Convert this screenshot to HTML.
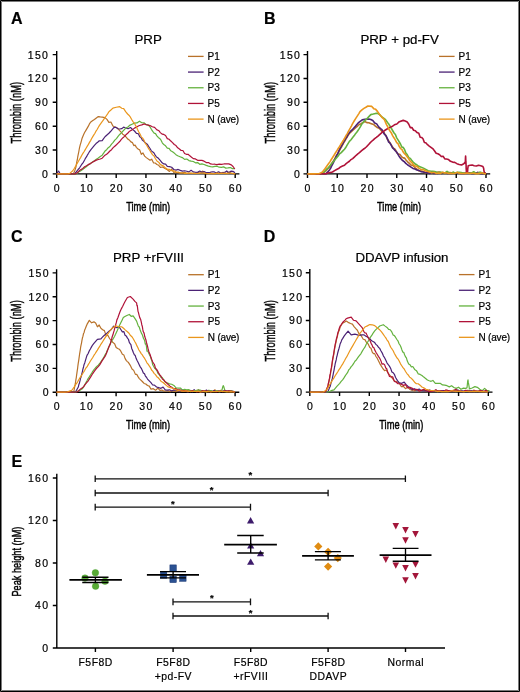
<!DOCTYPE html><html><head><meta charset="utf-8"><style>html,body{margin:0;padding:0;background:#fff;}svg{display:block;will-change:transform;} text{stroke:#000;stroke-width:0.2px;} text.h{stroke-width:0.45px;}</style></head><body>
<svg width="520" height="692" viewBox="0 0 520 692" style="font-family:'Liberation Sans', sans-serif" fill="#000">
<rect x="0" y="0" width="520" height="692" fill="#fff"/>
<text x="11.1" y="23.5" font-size="16" font-weight="bold">A</text>
<text x="134.5" y="43.6" font-size="13.3">PRP</text>
<text x="49.2" y="177.8" font-size="10.5" text-anchor="end" letter-spacing="1.3">0</text>
<text x="49.2" y="153.94" font-size="10.5" text-anchor="end" letter-spacing="1.3">30</text>
<text x="49.2" y="130.08" font-size="10.5" text-anchor="end" letter-spacing="1.3">60</text>
<text x="49.2" y="106.22" font-size="10.5" text-anchor="end" letter-spacing="1.3">90</text>
<text x="49.2" y="82.36" font-size="10.5" text-anchor="end" letter-spacing="1.3">120</text>
<text x="49.2" y="58.5" font-size="10.5" text-anchor="end" letter-spacing="1.3">150</text>
<text x="57.35" y="192" font-size="10.5" text-anchor="middle" letter-spacing="1.3">0</text>
<text x="87.1" y="192" font-size="10.5" text-anchor="middle" letter-spacing="1.3">10</text>
<text x="116.85" y="192" font-size="10.5" text-anchor="middle" letter-spacing="1.3">20</text>
<text x="146.6" y="192" font-size="10.5" text-anchor="middle" letter-spacing="1.3">30</text>
<text x="176.35" y="192" font-size="10.5" text-anchor="middle" letter-spacing="1.3">40</text>
<text x="206.1" y="192" font-size="10.5" text-anchor="middle" letter-spacing="1.3">50</text>
<text x="235.85" y="192" font-size="10.5" text-anchor="middle" letter-spacing="1.3">60</text>
<text x="126.2" y="210.5" font-size="12.3" textLength="44" lengthAdjust="spacingAndGlyphs" class="h">Time (min)</text>
<text transform="translate(21.2 143.4) rotate(-90)" font-size="13.8" textLength="61.5" lengthAdjust="spacingAndGlyphs" class="h">Thrombin (nM)</text>
<path d="M56.7 50.9 V177.9 M52.7 173.9 H239.4 M52.7 150.04 H56.7 M52.7 126.18 H56.7 M52.7 102.32 H56.7 M52.7 78.46 H56.7 M52.7 54.6 H56.7 M86.45 173.9 V177.9 M116.2 173.9 V177.9 M145.95 173.9 V177.9 M175.7 173.9 V177.9 M205.45 173.9 V177.9 M235.2 173.9 V177.9" fill="none" stroke="#000" stroke-width="1.4"/>
<path d="M56.7 173.9 L58.8 173.89 L60.9 173.88 L63 173.86 L65.1 173.85 L67.2 173.84 L69.3 173.83 L71.4 173.81 L73.5 173.8 L74.23 171.89 L74.97 170.2 L75.7 167.8 L76.1 166.05 L76.5 163.63 L76.9 161.47 L77.3 159.76 L77.7 157.23 L78.08 155.21 L78.46 153.39 L78.84 151.5 L79.22 149.27 L79.6 147.42 L80.22 144.9 L80.85 142.82 L81.47 140.61 L82.1 138.22 L82.93 136.22 L83.77 134.23 L84.6 132.55 L86.05 130.11 L87.5 127.63 L88.5 125.91 L89.5 123.82 L90.5 122.28 L92.45 120.85 L94.4 119.46 L96.35 117.92 L98.3 116.62 L100.3 116.89 L102.2 117.05 L105 117.66 L106.95 119.41 L108.9 122.37 L110.9 122.01 L112.9 126.06 L115.35 127.23 L117.8 128.28 L119.43 130.45 L121.07 132.14 L122.7 134.13 L124.33 135.21 L125.97 136.92 L127.6 138.88 L129.23 139.91 L130.87 141.87 L132.5 142.65 L133.8 145.58 L135.1 145.16 L136.4 147.33 L138.03 149.07 L139.67 149.9 L141.3 154.33 L142.97 152.98 L144.63 156.14 L146.3 157.63 L150 160.26 L151.73 159.18 L153.47 162.78 L155.2 162.99 L156.93 164.52 L158.67 165.3 L160.4 167.35 L162.7 166.97 L165 168.58 L167.3 169.75 L169.48 171.44 L171.65 169.12 L173.82 172.52 L176 172.76 L178.15 172.11 L180.3 173.01 L182.45 172.82 L184.6 172.35 L186.62 173.37 L188.65 173.37 L190.67 173.38 L192.7 173.41 L194.72 173.44 L196.74 172.96 L198.77 172.14 L200.79 172.26 L202.82 171.08 L204.84 173.53 L206.86 173.53 L208.89 173.38 L210.91 173.51 L212.94 173.56 L214.96 173.45 L216.98 173.01 L219.01 173.39 L221.03 173.46 L223.06 172.37 L225.08 173.37 L227.1 173.06 L229.13 172.14 L231.15 173.23 L233.18 173.38 L235.2 173.8" fill="none" stroke="#b8722a" stroke-width="1.2" stroke-linejoin="round"/>
<path d="M56.7 173.9 L57.5 172.5 L58.6 171.05 L60 173.5 L61 173.9 L63.25 173.88 L65.5 173.87 L67.75 173.85 L70 173.83 L72.25 173.82 L74.5 173.8 L76.2 171.93 L77.9 169.76 L79.6 167.78 L80.85 165.75 L82.1 163.94 L83.35 162.31 L84.6 160.01 L85.58 158.04 L86.56 156.72 L87.54 154.83 L88.52 153.24 L89.5 151.55 L91.13 149.3 L92.77 147.34 L94.4 145.39 L96.03 143.53 L97.67 142.27 L99.3 140.79 L102.2 140.54 L103.6 138.6 L105 136.75 L106.95 134.94 L108.9 133.23 L110.53 131.52 L112.17 129.62 L113.8 127.69 L115.8 127.15 L117.8 128.75 L119.75 129.03 L121.7 128.69 L123.65 127.14 L125.6 127.99 L128.05 128.77 L130.5 127.49 L132.5 129.36 L134.5 131 L136.45 133.36 L138.4 133.76 L139.7 136.72 L141 137.45 L142.3 139.95 L143.93 141.29 L145.57 143.07 L147.2 144.17 L148.53 146.35 L149.87 148.28 L151.2 150.56 L152.53 151.84 L153.87 152.75 L155.2 155.09 L156.5 157.02 L157.8 157.75 L159.1 159.07 L160.4 160.62 L162.12 162.77 L163.85 163.88 L165.58 164.15 L167.3 166.36 L169.48 166.61 L171.65 167.27 L173.82 169.52 L176 170.07 L178.15 169.42 L180.3 170.41 L182.45 171.13 L184.6 170.75 L186.76 171.23 L188.93 171.89 L191.09 170.29 L193.25 171.88 L195.41 172.28 L197.57 172.23 L199.74 171.05 L201.9 172.32 L203.97 171.54 L206.04 172.59 L208.11 172.65 L210.18 172.43 L212.24 171.78 L214.31 171.95 L216.38 173 L218.45 171.82 L220.52 172.84 L222.59 172.9 L224.66 172.39 L226.72 170.95 L228.79 172.72 L230.86 171.21 L232.93 171.34 L235 172.8" fill="none" stroke="#4b2275" stroke-width="1.2" stroke-linejoin="round"/>
<path d="M56.7 173.9 L58.9 173.89 L61.1 173.88 L63.3 173.87 L65.5 173.86 L67.7 173.84 L69.9 173.83 L72.1 173.82 L74.3 173.81 L76.5 173.8 L78.53 171.98 L80.55 171.06 L82.57 169.55 L84.6 167.95 L86.23 166.76 L87.87 165.22 L89.5 164.2 L91.13 162.9 L92.77 161.8 L94.4 160.75 L96.35 159.26 L98.3 157.96 L100.25 156.43 L102.2 155.13 L103.6 153.17 L105 151.05 L106.63 149.68 L108.27 147.69 L109.9 146.51 L111.53 144.07 L113.17 142.44 L114.8 140.17 L116.43 138.61 L118.07 136.39 L119.7 134.47 L121.33 132.89 L122.97 131.03 L124.6 129.33 L126.27 127.83 L127.93 127.03 L129.6 125.39 L132.05 124.2 L134.5 123.09 L136.95 122.93 L139.4 121.15 L141.85 122.74 L144.3 122.88 L146.2 124.73 L148.1 124.78 L150 126.88 L151.38 129.3 L152.76 131.44 L154.14 133.2 L155.52 133.59 L156.9 135.83 L158.28 137.46 L159.66 138.48 L161.04 140.17 L162.42 143.1 L163.8 144.54 L165.55 145.85 L167.3 148.12 L169.05 148.42 L170.8 150.79 L172.53 151.81 L174.25 153.07 L175.97 154.67 L177.7 155.8 L180 156.71 L182.3 157.58 L184.6 159.37 L186.78 158.98 L188.95 160.56 L191.12 161.18 L193.3 161.51 L195.45 162.79 L197.6 162.53 L199.75 164.29 L201.9 163.85 L204.07 164.48 L206.25 165.38 L208.43 166.11 L210.6 166.6 L212.75 166.79 L214.9 166.39 L217.05 166.17 L219.2 167.2 L221.38 167.29 L223.55 166.83 L225.72 168.11 L227.9 167.91 L230.2 167.57 L232.5 168.64 L234.8 168.7" fill="none" stroke="#64b23e" stroke-width="1.2" stroke-linejoin="round"/>
<path d="M56.7 173.9 L58.81 173.89 L60.92 173.88 L63.03 173.87 L65.14 173.86 L67.26 173.84 L69.37 173.83 L71.48 173.82 L73.59 173.81 L75.7 173.8 L77.48 172.44 L79.26 170.86 L81.04 169.58 L82.82 168.43 L84.6 166.74 L86.56 165.83 L88.52 164.42 L90.48 163.58 L92.44 162.16 L94.4 161.13 L96.35 160.1 L98.3 159.54 L100.25 159.01 L102.2 158.18 L105 155.2 L106.63 154.19 L108.27 152.71 L109.9 151.04 L111.53 149.7 L113.17 147.66 L114.8 146.19 L116.43 144.75 L118.07 143.15 L119.7 141.51 L121.33 139.45 L122.97 137.67 L124.6 136.36 L126.27 134.43 L127.93 133.01 L129.6 131.19 L132.05 129.88 L134.5 128.13 L136.95 126.84 L139.4 125.5 L141.85 124.81 L144.3 123.94 L147.15 124.96 L150 125.54 L152.3 126.79 L154.6 127.43 L156.9 129.84 L158.62 130.48 L160.35 132.62 L162.08 134.11 L163.8 134.42 L165.55 135.5 L167.3 138.64 L169.05 139.26 L170.8 141.05 L172.53 142.58 L174.25 144.52 L175.97 145.52 L177.7 147.84 L179.42 148.94 L181.15 150.49 L182.88 150.52 L184.6 153.55 L186.34 154.32 L188.08 154.23 L189.82 155.82 L191.56 157.28 L193.3 158.65 L195.45 158.95 L197.6 160.36 L199.75 160.26 L201.9 160.35 L204.07 161.18 L206.25 162.61 L208.43 162.51 L210.6 163.96 L212.75 164.26 L214.9 164.22 L217.05 164.66 L219.2 164.2 L221.53 164.29 L223.87 163.97 L226.2 163.96 L228.75 163.89 L231.3 164.89 L233.05 166.51 L234.8 169" fill="none" stroke="#b01238" stroke-width="1.2" stroke-linejoin="round"/>
<path d="M56.7 173.9 L58.94 173.88 L61.18 173.86 L63.42 173.84 L65.66 173.82 L67.9 173.8 L69.8 173.4 L72.8 170.75 L74.25 168.47 L75.7 166.05 L77 163.66 L78.3 161.54 L79.6 159.2 L80.7 157.35 L81.8 155.33 L82.9 153.38 L84 151.74 L85.1 149.85 L86.2 148.04 L87.3 146.15 L88.4 144.39 L89.5 142.37 L90.59 140.61 L91.68 138.59 L92.77 136.59 L93.86 134.93 L94.94 133.28 L96.03 131.09 L97.12 129.52 L98.21 127.48 L99.3 125.66 L100.72 123.7 L102.15 121.72 L103.58 119.6 L105 117.71 L106.3 115.78 L107.6 113.85 L108.9 111.72 L110.9 110.01 L112.9 108.1 L116.3 107.25 L119.7 106.63 L121.7 108.26 L123.7 108.65 L125.65 111.68 L127.6 113.99 L128.9 115.2 L130.2 116.84 L131.5 119.27 L133 121.62 L134.5 123.32 L135.47 125.48 L136.43 126.65 L137.4 129.25 L138.7 131.82 L140 134.09 L141.3 136.85 L142.63 138.2 L143.97 140.11 L145.3 143.36 L146.48 144.82 L147.65 146.95 L148.82 148.93 L150 150.71 L151.3 152.95 L152.6 154.87 L153.9 155.77 L155.2 158.28 L156.93 161 L158.67 162.16 L160.4 164.64 L162.12 165.38 L163.85 166.35 L165.58 168.15 L167.3 169.06 L169.48 169.46 L171.65 170.72 L173.82 170.79 L176 171.85 L178.15 172.77 L180.3 172.81 L182.45 172.78 L184.6 173.34 L186.62 173.4 L188.65 173.07 L190.67 173.2 L192.7 173.45 L194.72 173.39 L196.74 173.52 L198.77 173.5 L200.79 173.08 L202.82 173.05 L204.84 173.15 L206.86 173.5 L208.89 173.56 L210.91 173.34 L212.94 173.55 L214.96 173.6 L216.98 173.11 L219.01 173.56 L221.03 173.21 L223.06 173.37 L225.08 173.22 L227.1 173.69 L229.13 173.18 L231.15 173.27 L233.18 173.66 L235.2 173.8" fill="none" stroke="#ea961c" stroke-width="1.2" stroke-linejoin="round"/>
<path d="M188 56.4 H203.6" stroke="#b8722a" stroke-width="1.3"/>
<text x="207.6" y="60" font-size="10">P1</text>
<path d="M188 72.08 H203.6" stroke="#4b2275" stroke-width="1.3"/>
<text x="207.6" y="75.68" font-size="10">P2</text>
<path d="M188 87.76 H203.6" stroke="#64b23e" stroke-width="1.3"/>
<text x="207.6" y="91.36" font-size="10">P3</text>
<path d="M188 103.44 H203.6" stroke="#b01238" stroke-width="1.3"/>
<text x="207.6" y="107.04" font-size="10">P5</text>
<path d="M188 119.12 H203.6" stroke="#ea961c" stroke-width="1.3"/>
<text x="207.6" y="122.72" font-size="10" textLength="31.6">N (ave)</text>
<text x="263.9" y="23.5" font-size="16" font-weight="bold">B</text>
<text x="360.4" y="43.6" font-size="13.3">PRP + pd-FV</text>
<text x="301.2" y="177.8" font-size="10.5" text-anchor="end" letter-spacing="1.3">0</text>
<text x="301.2" y="153.94" font-size="10.5" text-anchor="end" letter-spacing="1.3">30</text>
<text x="301.2" y="130.08" font-size="10.5" text-anchor="end" letter-spacing="1.3">60</text>
<text x="301.2" y="106.22" font-size="10.5" text-anchor="end" letter-spacing="1.3">90</text>
<text x="301.2" y="82.36" font-size="10.5" text-anchor="end" letter-spacing="1.3">120</text>
<text x="301.2" y="58.5" font-size="10.5" text-anchor="end" letter-spacing="1.3">150</text>
<text x="308.15" y="192" font-size="10.5" text-anchor="middle" letter-spacing="1.3">0</text>
<text x="337.9" y="192" font-size="10.5" text-anchor="middle" letter-spacing="1.3">10</text>
<text x="367.65" y="192" font-size="10.5" text-anchor="middle" letter-spacing="1.3">20</text>
<text x="397.4" y="192" font-size="10.5" text-anchor="middle" letter-spacing="1.3">30</text>
<text x="427.15" y="192" font-size="10.5" text-anchor="middle" letter-spacing="1.3">40</text>
<text x="456.9" y="192" font-size="10.5" text-anchor="middle" letter-spacing="1.3">50</text>
<text x="486.65" y="192" font-size="10.5" text-anchor="middle" letter-spacing="1.3">60</text>
<text x="377" y="210.5" font-size="12.3" textLength="44" lengthAdjust="spacingAndGlyphs" class="h">Time (min)</text>
<text transform="translate(274.7 143.4) rotate(-90)" font-size="13.8" textLength="61.5" lengthAdjust="spacingAndGlyphs" class="h">Thrombin (nM)</text>
<path d="M307.5 50.9 V177.9 M303.5 173.9 H490.2 M303.5 150.04 H307.5 M303.5 126.18 H307.5 M303.5 102.32 H307.5 M303.5 78.46 H307.5 M303.5 54.6 H307.5 M337.25 173.9 V177.9 M367 173.9 V177.9 M396.75 173.9 V177.9 M426.5 173.9 V177.9 M456.25 173.9 V177.9 M486 173.9 V177.9" fill="none" stroke="#000" stroke-width="1.4"/>
<path d="M307.5 173.9 L309.69 173.89 L311.87 173.87 L314.06 173.86 L316.24 173.84 L318.43 173.83 L320.61 173.81 L322.8 173.8 L324.52 172.02 L326.25 170.38 L327.98 168.55 L329.7 167.01 L330.93 164.98 L332.15 162.81 L333.38 160.98 L334.6 159.06 L335.6 157.2 L336.6 155.4 L337.6 153.97 L338.6 152.37 L339.6 150.25 L340.58 148.45 L341.56 146.82 L342.54 144.92 L343.52 143.05 L344.5 141.63 L345.73 139.28 L346.95 137.38 L348.17 135.44 L349.4 133.45 L351.03 131.93 L352.67 130.43 L354.3 128.94 L355.93 127.48 L357.57 126.04 L359.2 124.49 L361.1 123.66 L363 122.48 L364.9 121.55 L366.85 122.64 L368.8 122.71 L371.3 123.68 L373.8 124.59 L375.43 126.15 L377.07 127.39 L378.7 127.99 L380.33 129.52 L381.97 131.58 L383.6 131.49 L384.83 134.13 L386.05 135.71 L387.27 139.18 L388.5 140.63 L389.73 142.53 L390.95 144.42 L392.17 146.31 L393.4 148.26 L395.03 149.19 L396.67 152.18 L398.3 154.33 L399.93 154.38 L401.57 156.79 L403.2 157.87 L404.68 158.16 L406.15 160.24 L407.62 161.83 L409.1 163.21 L411.04 165.09 L412.98 165.56 L414.92 167.52 L416.86 169.14 L418.8 170.8 L420.98 171.08 L423.15 171.57 L425.32 172.73 L427.5 171.91 L429.52 173.54 L431.53 172.89 L433.55 172.39 L435.57 172.87 L437.59 172.13 L439.6 172.04 L441.62 173.01 L443.64 172.79 L445.66 172.84 L447.67 172.79 L449.69 172.59 L451.71 172.8 L453.72 172.42 L455.74 173.4 L457.76 173.08 L459.78 172.9 L461.79 172.86 L463.81 173.41 L465.83 173.29 L467.84 172.92 L469.86 172.95 L471.88 173.46 L473.9 173.27 L475.91 173.19 L477.93 172.42 L479.95 173.16 L481.97 173.51 L483.98 173.59 L486 173.8" fill="none" stroke="#b8722a" stroke-width="1.6" stroke-linejoin="round"/>
<path d="M307.5 173.9 L309.53 173.89 L311.57 173.88 L313.6 173.87 L315.63 173.86 L317.67 173.84 L319.7 173.83 L321.73 173.82 L323.77 173.81 L325.8 173.8 L327.75 171.91 L329.7 169.68 L330.68 168.09 L331.66 166.03 L332.64 164.03 L333.62 162.13 L334.6 159.73 L335.6 157.85 L336.6 155.63 L337.6 153.92 L338.6 151.43 L339.6 149.22 L340.58 147.68 L341.56 145.61 L342.54 144.25 L343.52 142.14 L344.5 140.49 L345.73 138.37 L346.95 136.68 L348.17 134.22 L349.4 132.71 L351.03 130.83 L352.67 129.34 L354.3 127.51 L355.6 126.1 L356.9 124.46 L358.2 122.9 L360.2 121.35 L362.2 119.9 L365 119.35 L368.8 118.99 L370.8 119.5 L372.8 120.4 L374.75 122.97 L376.7 123.89 L378.65 126.88 L380.6 128.52 L381.93 129.58 L383.27 132.26 L384.6 134.47 L385.58 135.28 L386.55 136.83 L387.52 138.86 L388.5 141.79 L389.8 142.94 L391.1 145.01 L392.4 147.58 L393.7 148.84 L395 150.53 L396.3 151.8 L397.63 153.72 L398.97 156.12 L400.3 158.09 L402.25 160.28 L404.2 161.63 L405.83 163.39 L407.47 164.76 L409.1 165.85 L411.04 167.13 L412.98 168.4 L414.92 168.97 L416.86 169.92 L418.8 170.37 L420.98 171.66 L423.15 172 L425.32 172.45 L427.5 172.75 L429.52 173.54 L431.53 171.83 L433.55 173.5 L435.57 173.33 L437.59 173.54 L439.6 173 L441.62 173.4 L443.64 173 L445.66 173.03 L447.67 173.53 L449.69 173.55 L451.71 173.39 L453.72 173.03 L455.74 173.34 L457.76 172.91 L459.78 173.11 L461.79 173.36 L463.81 173.57 L465.83 173.16 L467.84 173.31 L469.86 172.92 L471.88 173.52 L473.9 173.47 L475.91 173.1 L477.93 172.39 L479.95 173.7 L481.97 173.73 L483.98 173.54 L486 173.8" fill="none" stroke="#4b2275" stroke-width="1.6" stroke-linejoin="round"/>
<path d="M307.5 173.9 L309.57 173.89 L311.64 173.87 L313.71 173.86 L315.79 173.84 L317.86 173.83 L319.93 173.81 L322 173.8 L323.54 172.25 L325.08 170.7 L326.62 169.16 L328.16 167.79 L329.7 166.08 L331.33 164.12 L332.97 162 L334.6 160.29 L336.27 158.1 L337.93 156.29 L339.6 153.85 L341.23 152.61 L342.87 150.92 L344.5 149.22 L345.73 147.54 L346.95 145.42 L348.17 143.35 L349.4 141.31 L351.03 139.74 L352.67 137.59 L354.3 135.61 L355.52 133.67 L356.75 132.32 L357.98 130.49 L359.2 128.66 L360.43 126.65 L361.67 124.37 L362.9 122.71 L364.9 120.47 L366.9 118.84 L368.85 116.63 L370.8 114.6 L373.25 114.06 L375.7 113.42 L377.65 113.38 L379.6 114.66 L381.6 116.78 L383.6 118.06 L385.55 119.66 L387.5 122.47 L388.8 124.04 L390.1 126.22 L391.4 128.53 L392.73 130.77 L394.07 132.99 L395.4 134.49 L396.7 137.86 L398 139.82 L399.3 141.98 L400.6 144.25 L401.9 147.19 L403.2 147.39 L404.53 149.52 L405.87 153.12 L407.2 154.57 L408.77 157.68 L410.33 158.39 L411.9 160.63 L413.62 162.66 L415.35 164 L417.07 165.04 L418.8 166.35 L421.13 167.16 L423.47 168.13 L425.8 169.39 L428.1 170.76 L430.4 171.02 L432.7 171.21 L434.75 171.64 L436.8 172.19 L438.85 172.65 L440.9 172.19 L442.95 172.49 L445 172.98 L447.05 171.4 L449.1 172.98 L451.15 173.57 L453.2 172.06 L455.25 173.39 L457.3 172.18 L459.35 172.38 L461.4 172.65 L463.45 172.95 L465.5 173.15 L467.55 173.28 L469.6 173.22 L471.65 172.89 L473.7 171.73 L475.75 173.39 L477.8 173.56 L479.85 172.12 L481.9 172.72 L483.95 173.59 L486 173.3" fill="none" stroke="#64b23e" stroke-width="1.6" stroke-linejoin="round"/>
<path d="M307.5 173.9 L309.56 173.89 L311.61 173.88 L313.67 173.87 L315.72 173.86 L317.78 173.84 L319.83 173.83 L321.89 173.82 L323.94 173.81 L326 173.8 L328.15 173.08 L330.3 172.42 L332.45 172.01 L334.6 170.67 L336.58 169.52 L338.56 168.57 L340.54 166.94 L342.52 166.02 L344.5 165.24 L346.13 163.6 L347.77 162.43 L349.4 161.24 L351.03 159.56 L352.67 158.56 L354.3 157.07 L356.2 155.27 L358.1 153.74 L360 152.09 L361.63 150.68 L363.27 149.3 L364.9 148.3 L366.53 146.71 L368.17 144.95 L369.8 143.18 L371.43 141.51 L373.07 140.1 L374.7 138.57 L376.33 137.38 L377.97 136.06 L379.6 134.59 L381.27 133.09 L382.93 131.72 L384.6 130.54 L387.05 129.03 L389.5 127.62 L391.95 126.56 L394.4 124.86 L396.85 123.99 L399.3 121.66 L403.2 120.37 L405.2 121.05 L407.2 121.89 L408.77 124.24 L410.33 127.63 L411.9 127.52 L413.62 130.27 L415.35 130.75 L417.07 132.61 L418.8 133.29 L420.2 137.31 L421.6 137.45 L423 138.79 L424.4 142.54 L425.8 142.83 L427.52 144.71 L429.25 146.05 L430.98 147.3 L432.7 148.61 L434.43 150.78 L436.15 153.32 L437.88 153.79 L439.6 154.68 L441.34 156.58 L443.08 156.23 L444.82 158.87 L446.56 158.95 L448.3 159.42 L450.45 161.35 L452.6 162.11 L454.75 162.39 L456.9 163.65 L459.2 164.45 L461.5 165.01 L463.8 163.71 L465.2 161.98 L465.3 163.19 L465.4 159.57 L465.5 157.44 L465.6 156 L465.7 157.48 L465.8 160.57 L465.9 161.06 L466 163.86 L466.1 165.15 L466.2 169.11 L466.3 169.9 L466.4 172.86 L467.5 172.96 L467.73 168.9 L467.97 167.31 L468.2 165.7 L470.2 165.23 L472.2 165.11 L474.2 165.78 L476.38 166.06 L478.55 165.24 L480.72 165.78 L482.9 166.55 L483.6 168.15 L483.95 170.6 L484.3 172.22 L486 173.8" fill="none" stroke="#b01238" stroke-width="1.6" stroke-linejoin="round"/>
<path d="M307.5 173.9 L309.78 173.88 L312.06 173.86 L314.34 173.84 L316.62 173.82 L318.9 173.8 L321.9 172.4 L323.35 170.83 L324.8 168.88 L326.02 167.23 L327.25 165.5 L328.48 163.81 L329.7 162.12 L330.93 160.04 L332.15 158.19 L333.38 156.3 L334.6 154.24 L335.85 152.3 L337.1 150.3 L338.35 148.28 L339.6 146.49 L340.83 144.28 L342.05 142.44 L343.27 140.56 L344.5 138.53 L345.48 136.61 L346.46 134.83 L347.44 133.32 L348.42 131.28 L349.4 129.6 L350.38 127.9 L351.36 126.09 L352.34 124.13 L353.32 122.36 L354.3 120.79 L355.44 118.92 L356.58 117.17 L357.72 115.41 L358.86 113.62 L360 111.66 L361.95 109.87 L363.9 108.4 L365.9 107.28 L367.9 105.99 L371.8 106.41 L373.75 108.64 L375.7 109.36 L377.65 111.64 L379.6 114.42 L380.93 115.97 L382.27 117.73 L383.6 118.76 L384.58 120.03 L385.55 122.51 L386.52 124.57 L387.5 126.27 L388.8 129.11 L390.1 131.23 L391.4 133.04 L392.73 135.9 L394.07 137.95 L395.4 140.13 L396.7 142.66 L398 143.65 L399.3 146.56 L400.6 148.55 L401.9 149.42 L403.2 152.03 L404.53 153.68 L405.87 154.97 L407.2 156.8 L408.38 158.34 L409.55 160.27 L410.72 161.68 L411.9 162.75 L413.62 164.99 L415.35 165.96 L417.07 166.43 L418.8 168.1 L421.13 169.64 L423.47 169.52 L425.8 171.06 L427.95 171.47 L430.1 172.29 L432.25 172.44 L434.4 172.51 L436.46 173.47 L438.53 172.95 L440.59 173.35 L442.66 172.33 L444.72 172.9 L446.78 173.05 L448.85 173.54 L450.91 173.22 L452.98 173.47 L455.04 173.32 L457.1 172.37 L459.17 173.16 L461.23 173.54 L463.3 173.49 L465.36 173.34 L467.42 172.94 L469.49 173.45 L471.55 173.32 L473.62 173.19 L475.68 173.62 L477.74 173.64 L479.81 173.52 L481.87 172.86 L483.94 173.52 L486 173.8" fill="none" stroke="#ea961c" stroke-width="1.6" stroke-linejoin="round"/>
<path d="M439 56.4 H454.6" stroke="#b8722a" stroke-width="1.3"/>
<text x="458.6" y="60" font-size="10">P1</text>
<path d="M439 72.08 H454.6" stroke="#4b2275" stroke-width="1.3"/>
<text x="458.6" y="75.68" font-size="10">P2</text>
<path d="M439 87.76 H454.6" stroke="#64b23e" stroke-width="1.3"/>
<text x="458.6" y="91.36" font-size="10">P3</text>
<path d="M439 103.44 H454.6" stroke="#b01238" stroke-width="1.3"/>
<text x="458.6" y="107.04" font-size="10">P5</text>
<path d="M439 119.12 H454.6" stroke="#ea961c" stroke-width="1.3"/>
<text x="458.6" y="122.72" font-size="10" textLength="31.6">N (ave)</text>
<text x="11.1" y="241.7" font-size="16" font-weight="bold">C</text>
<text x="113" y="261.9" font-size="13.3">PRP +rFVIII</text>
<text x="49.8" y="396.1" font-size="10.5" text-anchor="end" letter-spacing="1.3">0</text>
<text x="49.8" y="372.24" font-size="10.5" text-anchor="end" letter-spacing="1.3">30</text>
<text x="49.8" y="348.38" font-size="10.5" text-anchor="end" letter-spacing="1.3">60</text>
<text x="49.8" y="324.52" font-size="10.5" text-anchor="end" letter-spacing="1.3">90</text>
<text x="49.8" y="300.66" font-size="10.5" text-anchor="end" letter-spacing="1.3">120</text>
<text x="49.8" y="276.8" font-size="10.5" text-anchor="end" letter-spacing="1.3">150</text>
<text x="57.25" y="410.3" font-size="10.5" text-anchor="middle" letter-spacing="1.3">0</text>
<text x="87" y="410.3" font-size="10.5" text-anchor="middle" letter-spacing="1.3">10</text>
<text x="116.75" y="410.3" font-size="10.5" text-anchor="middle" letter-spacing="1.3">20</text>
<text x="146.5" y="410.3" font-size="10.5" text-anchor="middle" letter-spacing="1.3">30</text>
<text x="176.25" y="410.3" font-size="10.5" text-anchor="middle" letter-spacing="1.3">40</text>
<text x="206" y="410.3" font-size="10.5" text-anchor="middle" letter-spacing="1.3">50</text>
<text x="235.75" y="410.3" font-size="10.5" text-anchor="middle" letter-spacing="1.3">60</text>
<text x="126.1" y="428.8" font-size="12.3" textLength="44" lengthAdjust="spacingAndGlyphs" class="h">Time (min)</text>
<text transform="translate(21.2 361.7) rotate(-90)" font-size="13.8" textLength="61.5" lengthAdjust="spacingAndGlyphs" class="h">Thrombin (nM)</text>
<path d="M56.6 269.2 V396.2 M52.6 392.2 H239.3 M52.6 368.34 H56.6 M52.6 344.48 H56.6 M52.6 320.62 H56.6 M52.6 296.76 H56.6 M52.6 272.9 H56.6 M86.35 392.2 V396.2 M116.1 392.2 V396.2 M145.85 392.2 V396.2 M175.6 392.2 V396.2 M205.35 392.2 V396.2 M235.1 392.2 V396.2" fill="none" stroke="#000" stroke-width="1.4"/>
<path d="M56.6 392.2 L58.74 392.18 L60.88 392.15 L63.01 392.12 L65.15 392.1 L67.29 392.07 L69.42 392.05 L71.56 392.02 L73.7 392 L74.12 389.9 L74.55 387.46 L74.98 385.5 L75.4 383.23 L75.7 381.16 L76 379.12 L76.3 377.55 L76.6 375.15 L76.9 373.13 L77.2 370.93 L77.54 368.96 L77.88 365.8 L78.22 363.33 L78.56 361.37 L78.9 359.06 L79.24 356.69 L79.58 354.21 L79.92 352.21 L80.26 350.13 L80.6 347.45 L81.05 345.02 L81.5 343.04 L81.95 340.35 L82.4 338.02 L82.98 336.15 L83.55 333.5 L84.12 332.48 L84.7 329.98 L85.47 328.22 L86.23 326.28 L87 324.4 L89.3 320.33 L91.6 322.82 L93.9 321.86 L95.65 323.09 L97.4 326.82 L99.15 324.99 L100.9 328.3 L102.65 329.67 L104.4 330.6 L106.1 335.66 L107.8 335.16 L109.55 338.57 L111.3 340.44 L112.95 342.6 L114.6 343.65 L116.17 347.43 L117.73 348.47 L119.3 349.18 L120.83 351.16 L122.37 354.29 L123.9 355.08 L125.05 358.38 L126.2 360.32 L127.35 361.61 L128.5 362.56 L130.25 365.36 L132 368.99 L133.7 370.39 L135.4 374.39 L136.7 374.28 L138 376.66 L139.3 378.62 L140.6 379.88 L142.33 381.49 L144.07 383.48 L145.8 383.99 L147.53 385.54 L149.27 386.15 L151 389.21 L153.3 388.71 L155.6 390.21 L157.9 388.12 L159.92 390.33 L161.93 390.04 L163.95 391.19 L165.97 391.02 L167.98 390.75 L170 391.58 L172.03 391.15 L174.06 390.95 L176.09 391.4 L178.12 390.97 L180.16 391.34 L182.19 391.34 L184.22 391.16 L186.25 391.01 L188.28 389.99 L190.31 391.63 L192.34 390.88 L194.38 390.72 L196.41 391.38 L198.44 389.75 L200.47 391.84 L202.5 391.49 L204.53 390.61 L206.56 391.91 L208.59 391.3 L210.62 390.96 L212.66 391.51 L214.69 389.89 L216.72 391.07 L218.75 391.68 L220.78 390.36 L222.81 391.64 L224.84 390.99 L226.88 391.89 L228.91 390.95 L230.94 391.59 L232.97 391.23 L235 392" fill="none" stroke="#b8722a" stroke-width="1.2" stroke-linejoin="round"/>
<path d="M56.6 392.2 L58.7 392.18 L60.8 392.16 L62.9 392.13 L65 392.11 L67.1 392.09 L69.2 392.07 L71.3 392.04 L73.4 392.02 L75.5 392 L76.9 389.49 L78.3 387.01 L78.88 384.4 L79.46 382.98 L80.04 380.65 L80.62 377.96 L81.2 376.69 L81.78 373.9 L82.36 371.81 L82.94 368.98 L83.52 366.97 L84.1 364.42 L84.82 362.65 L85.55 360.1 L86.28 357.63 L87 355.42 L88.17 353.44 L89.33 350.74 L90.5 348.72 L91.63 346.62 L92.77 344.78 L93.9 343.3 L95.65 341.29 L97.4 339.34 L100.9 338.9 L102.65 336.91 L104.4 335.22 L105.93 334.09 L107.47 332.66 L109 331.19 L111.3 329.5 L113.6 326.17 L116.45 327.57 L119.3 327.08 L120.83 329.49 L122.37 331.9 L123.9 331.62 L125.05 335.2 L126.2 335.91 L127.35 337.9 L128.5 339.48 L129.3 342.4 L130.1 343.53 L130.9 344.65 L131.7 348.43 L132.5 350.2 L133.42 352.78 L134.34 354.8 L135.26 355.57 L136.18 358.6 L137.1 360.58 L138.15 362.5 L139.2 364.67 L140.25 366.87 L141.3 368.31 L142.33 370.44 L143.37 373.09 L144.4 373.51 L145.43 376.05 L146.47 377.24 L147.5 379.06 L149.22 380.88 L150.95 382.67 L152.68 384.99 L154.4 385.16 L156.57 386.95 L158.75 387.68 L160.93 388.35 L163.1 387.13 L165.25 389.81 L167.4 390.19 L169.55 389.85 L171.7 391.09 L173.74 389.99 L175.78 390.24 L177.83 390.72 L179.87 391.74 L181.91 389.87 L183.95 390.43 L185.99 391.39 L188.04 391.87 L190.08 390.38 L192.12 391.79 L194.16 389.67 L196.2 391.58 L198.25 390.43 L200.29 391.23 L202.33 391.82 L204.37 391.67 L206.41 390.08 L208.45 391.73 L210.5 390.93 L212.54 391.38 L214.58 390.52 L216.62 391.45 L218.66 391.13 L220.71 391.54 L222.75 391.19 L224.79 390.24 L226.83 391.12 L228.87 391.08 L230.92 391.27 L232.96 391.33 L235 391.8" fill="none" stroke="#4b2275" stroke-width="1.2" stroke-linejoin="round"/>
<path d="M56.6 392.2 L58.76 392.18 L60.91 392.16 L63.07 392.13 L65.22 392.11 L67.38 392.09 L69.53 392.07 L71.69 392.04 L73.84 392.02 L76 392 L78.13 391.03 L80.27 390.11 L82.4 388.71 L83.54 387.2 L84.68 384.71 L85.82 382.88 L86.96 380.84 L88.1 378.56 L89.26 376.9 L90.42 375.11 L91.58 373.46 L92.74 371.33 L93.9 369.73 L95.35 368.03 L96.8 366.47 L98.25 365.21 L99.7 363.51 L100.86 361.79 L102.02 360.03 L103.18 358.29 L104.34 356.29 L105.5 354.14 L106.33 352.81 L107.16 350.77 L107.99 348.86 L108.81 346.94 L109.64 345.36 L110.47 343.49 L111.3 341.72 L112.4 339.81 L113.5 338.34 L114.6 336.25 L115.54 334.29 L116.48 332.18 L117.42 330.25 L118.36 327.86 L119.3 325.85 L120.3 323.84 L121.3 321.73 L122.3 319.71 L123.3 317.58 L125.35 316.18 L127.4 315.19 L129.3 314.48 L131.2 316.29 L133.1 315.91 L134.85 318.46 L136.6 321.11 L137.47 323.67 L138.35 326.17 L139.22 327.04 L140.1 329.71 L141.27 332.88 L142.43 335.02 L143.6 338.78 L144.17 339.33 L144.73 341.11 L145.3 344.22 L145.87 343.9 L146.43 346.38 L147 351.13 L147.88 351.03 L148.75 353.34 L149.62 355.09 L150.5 356.57 L151.23 359.38 L151.97 361.04 L152.7 364.77 L153.74 366.56 L154.78 368.4 L155.82 369.35 L156.86 370.64 L157.9 373.41 L159.28 374.6 L160.66 377.05 L162.04 377.41 L163.42 379.38 L164.8 381.58 L167.1 382.92 L169.4 383.89 L171.7 384.24 L173.88 385.46 L176.05 387.95 L178.22 388.19 L180.4 388 L182.55 390.06 L184.7 389.27 L186.85 389.77 L189 389.7 L191.2 391.22 L193.4 390.5 L195.6 390.51 L197.8 390.12 L200 390.03 L202.15 390.92 L204.3 390.84 L206.45 391.79 L208.6 390.33 L210.75 390.67 L212.9 391.51 L215.05 391.42 L217.2 390.55 L219.35 391.85 L221.5 391.28 L222.07 389.53 L222.63 387.2 L223.2 385.58 L223.8 386.75 L224.4 388.87 L225 391.65 L227 391.33 L229 391.41 L231 390.62 L233 391.54 L235 391.5" fill="none" stroke="#64b23e" stroke-width="1.2" stroke-linejoin="round"/>
<path d="M56.6 392.2 L58.64 392.18 L60.68 392.16 L62.72 392.14 L64.76 392.12 L66.8 392.1 L68.84 392.08 L70.88 392.06 L72.92 392.04 L74.96 392.02 L77 392 L78.8 390.7 L80.6 388.9 L82.4 387.81 L83.83 386.31 L85.25 384.3 L86.67 382.68 L88.1 381.04 L89.26 379.12 L90.42 377.42 L91.58 375.5 L92.74 373.53 L93.9 371.88 L95.35 369.91 L96.8 368.13 L98.25 366.58 L99.7 364.9 L100.86 362.92 L102.02 360.9 L103.18 359.13 L104.34 357.4 L105.5 355.61 L106.4 353.57 L107.3 351.03 L108.2 348.8 L109.1 346.27 L110 344.61 L110.58 342.62 L111.17 340.53 L111.75 338.48 L112.33 336.24 L112.92 334.85 L113.5 332.67 L114.07 330.93 L114.63 328.69 L115.2 326.66 L115.77 324.31 L116.33 322.41 L116.9 319.87 L117.78 318.01 L118.65 315.44 L119.53 312.93 L120.4 310.73 L121.57 308.34 L122.73 306.24 L123.9 303.78 L125.07 301.56 L126.23 299.57 L127.4 297.46 L130.3 296.51 L133.1 299.08 L134.85 301.39 L136.6 302.92 L136.96 305.68 L137.32 305.5 L137.68 308.9 L138.04 311.53 L138.4 312.38 L139.12 315.31 L139.85 317.87 L140.58 319.22 L141.3 322.08 L141.79 324.71 L142.27 326.2 L142.76 329.2 L143.24 331.64 L143.73 332.29 L144.21 333.68 L144.7 336.28 L145.28 338.1 L145.87 339.75 L146.45 342.43 L147.03 344.51 L147.62 346.69 L148.2 349.5 L148.9 351.66 L149.6 353.38 L150.3 355.04 L151 357.55 L151.7 359.41 L152.6 361.72 L153.5 363.27 L154.4 364.31 L155.44 368.2 L156.48 369.11 L157.52 370.88 L158.56 372.87 L159.6 374.57 L160.98 376.17 L162.36 378.92 L163.74 379.89 L165.12 381.68 L166.5 382.81 L168.25 384.54 L170 386.15 L171.75 387.15 L173.5 388.68 L175.65 388.61 L177.8 389.95 L179.95 389.81 L182.1 390.76 L184.13 390.61 L186.17 391.16 L188.2 391.69 L190.24 391.28 L192.27 390.67 L194.31 391.26 L196.34 391.78 L198.38 391.64 L200.41 391.55 L202.45 390.69 L204.48 391.03 L206.52 391 L208.55 391.14 L210.58 391.56 L212.62 391.48 L214.65 391.3 L216.69 391.83 L218.72 391.16 L220.76 391.4 L222.79 391.67 L224.83 390.9 L226.86 391.21 L228.9 390.94 L230.93 391.16 L232.97 391.69 L235 391.8" fill="none" stroke="#b01238" stroke-width="1.2" stroke-linejoin="round"/>
<path d="M56.6 392.2 L58.68 392.16 L60.76 392.12 L62.84 392.08 L64.92 392.04 L67 392 L69.45 391.1 L71.9 390.19 L73.08 388.51 L74.25 386.78 L75.42 384.91 L76.6 383.49 L77.76 381.58 L78.92 379.45 L80.08 377.65 L81.24 375.81 L82.4 374.02 L83.54 372.22 L84.68 370.32 L85.82 368.21 L86.96 366.94 L88.1 364.89 L89.26 363.03 L90.42 361 L91.58 359.23 L92.74 357.46 L93.9 355.45 L95.06 353.78 L96.22 351.83 L97.38 350.14 L98.54 348.14 L99.7 346.46 L100.86 344.27 L102.02 342.73 L103.18 340.77 L104.34 338.82 L105.5 337.11 L106.95 334.95 L108.4 333.04 L109.85 331.02 L111.3 329.01 L113.55 327.33 L115.8 325.78 L118.7 326.77 L121.6 326.75 L123.53 328.29 L125.47 330.1 L127.4 331.69 L128.82 332.99 L130.25 335.2 L131.68 336.46 L133.1 338.5 L134.07 340.31 L135.03 342.04 L136 343.68 L136.97 345.9 L137.93 347.67 L138.9 349.98 L140.05 351.6 L141.2 353.59 L142.35 354.99 L143.5 356.92 L144.65 358.48 L145.8 360.5 L146.95 362.78 L148.1 364.2 L149.25 365.95 L150.4 367.54 L151.55 370 L152.7 371.18 L154.08 373.32 L155.46 374.63 L156.84 376.69 L158.22 377.74 L159.6 379.33 L161.34 381.56 L163.08 382.45 L164.82 384.03 L166.56 385.62 L168.3 386.94 L170.45 387.67 L172.6 388.04 L174.75 389.08 L176.9 390.21 L179.08 390.65 L181.27 390.85 L183.45 391.03 L185.63 390.86 L187.82 391.36 L190 391.26 L192.05 391.32 L194.09 391.44 L196.14 391.34 L198.18 391.12 L200.23 391.83 L202.27 391.71 L204.32 391.39 L206.36 391.7 L208.41 391.49 L210.45 391.83 L212.5 391.55 L214.55 391.66 L216.59 391.39 L218.64 391.5 L220.68 391.43 L222.73 391.42 L224.77 391.55 L226.82 391.59 L228.86 391.9 L230.91 391.59 L232.95 391.97 L235 392" fill="none" stroke="#ea961c" stroke-width="1.2" stroke-linejoin="round"/>
<path d="M188.2 274.7 H203.8" stroke="#b8722a" stroke-width="1.3"/>
<text x="207.8" y="278.3" font-size="10">P1</text>
<path d="M188.2 290.38 H203.8" stroke="#4b2275" stroke-width="1.3"/>
<text x="207.8" y="293.98" font-size="10">P2</text>
<path d="M188.2 306.06 H203.8" stroke="#64b23e" stroke-width="1.3"/>
<text x="207.8" y="309.66" font-size="10">P3</text>
<path d="M188.2 321.74 H203.8" stroke="#b01238" stroke-width="1.3"/>
<text x="207.8" y="325.34" font-size="10">P5</text>
<path d="M188.2 337.42 H203.8" stroke="#ea961c" stroke-width="1.3"/>
<text x="207.8" y="341.02" font-size="10" textLength="31.6">N (ave)</text>
<text x="263.8" y="241.7" font-size="16" font-weight="bold">D</text>
<text x="355.6" y="261.8" font-size="13.3" textLength="92.9">DDAVP infusion</text>
<text x="303.3" y="396" font-size="10.5" text-anchor="end" letter-spacing="1.3">0</text>
<text x="303.3" y="372.14" font-size="10.5" text-anchor="end" letter-spacing="1.3">30</text>
<text x="303.3" y="348.28" font-size="10.5" text-anchor="end" letter-spacing="1.3">60</text>
<text x="303.3" y="324.42" font-size="10.5" text-anchor="end" letter-spacing="1.3">90</text>
<text x="303.3" y="300.56" font-size="10.5" text-anchor="end" letter-spacing="1.3">120</text>
<text x="303.3" y="276.7" font-size="10.5" text-anchor="end" letter-spacing="1.3">150</text>
<text x="310.45" y="410.2" font-size="10.5" text-anchor="middle" letter-spacing="1.3">0</text>
<text x="340.2" y="410.2" font-size="10.5" text-anchor="middle" letter-spacing="1.3">10</text>
<text x="369.95" y="410.2" font-size="10.5" text-anchor="middle" letter-spacing="1.3">20</text>
<text x="399.7" y="410.2" font-size="10.5" text-anchor="middle" letter-spacing="1.3">30</text>
<text x="429.45" y="410.2" font-size="10.5" text-anchor="middle" letter-spacing="1.3">40</text>
<text x="459.2" y="410.2" font-size="10.5" text-anchor="middle" letter-spacing="1.3">50</text>
<text x="488.95" y="410.2" font-size="10.5" text-anchor="middle" letter-spacing="1.3">60</text>
<text x="379.3" y="428.7" font-size="12.3" textLength="44" lengthAdjust="spacingAndGlyphs" class="h">Time (min)</text>
<text transform="translate(274.7 361.6) rotate(-90)" font-size="13.8" textLength="61.5" lengthAdjust="spacingAndGlyphs" class="h">Thrombin (nM)</text>
<path d="M309.8 269.1 V396.1 M305.8 392.1 H492.5 M305.8 368.24 H309.8 M305.8 344.38 H309.8 M305.8 320.52 H309.8 M305.8 296.66 H309.8 M305.8 272.8 H309.8 M339.55 392.1 V396.1 M369.3 392.1 V396.1 M399.05 392.1 V396.1 M428.8 392.1 V396.1 M458.55 392.1 V396.1 M488.3 392.1 V396.1" fill="none" stroke="#000" stroke-width="1.4"/>
<path d="M309.8 392.1 L312.06 392.09 L314.31 392.07 L316.57 392.06 L318.83 392.04 L321.09 392.03 L323.34 392.01 L325.6 392 L326.7 389.78 L327.8 387.64 L328.22 385.1 L328.63 382.98 L329.05 381.39 L329.47 379.11 L329.88 377.5 L330.3 374.81 L330.64 372.84 L330.99 370.21 L331.33 369.09 L331.67 367.04 L332.01 364.7 L332.36 362.42 L332.7 359.89 L333.06 357.94 L333.41 356.04 L333.77 354.54 L334.13 352.17 L334.49 349.68 L334.84 347.82 L335.2 345.74 L335.7 343.53 L336.2 340.97 L336.7 338.89 L337.2 337.05 L337.7 334.78 L338.5 332.05 L339.3 330.29 L340.1 327.27 L341.35 324.95 L342.6 323.13 L344.45 322.21 L346.3 321 L348.7 322.63 L350.55 323.51 L352.4 324.12 L354.25 326.85 L356.1 328.97 L357.4 330.23 L358.7 333.16 L360 334.15 L361.63 336.44 L363.27 339.23 L364.9 339.65 L366.53 342.48 L368.17 344.02 L369.8 347.5 L371.02 348.24 L372.25 352.1 L373.48 353.68 L374.7 353.63 L375.95 356.49 L377.2 358.21 L378.45 360.65 L379.7 363.37 L381.33 366.12 L382.97 368.78 L384.6 370.56 L386.23 369.98 L387.87 372.67 L389.5 374.95 L391.13 376.67 L392.77 378.89 L394.4 381.15 L396.85 381.77 L399.3 383.21 L401.37 386.73 L403.43 386.36 L405.5 388.63 L407.77 387.08 L410.05 389.47 L412.33 390.47 L414.6 390.93 L416.88 389.55 L419.15 391.02 L421.43 390.28 L423.7 390.36 L425.71 391.31 L427.72 391.77 L429.73 391.18 L431.74 391.28 L433.75 390.84 L435.76 390.83 L437.77 391.78 L439.77 390.76 L441.78 390.88 L443.79 390.97 L445.8 390.63 L447.81 391.25 L449.82 391.15 L451.83 390.91 L453.84 390.06 L455.85 391.68 L457.86 390.22 L459.87 391.03 L461.88 391.17 L463.89 391.66 L465.9 390.84 L467.91 390.2 L469.92 390.83 L471.93 391.78 L473.93 390.05 L475.94 391.54 L477.95 391.15 L479.96 391.17 L481.97 391.67 L483.98 391.68 L485.99 390.85 L488 391.8" fill="none" stroke="#b8722a" stroke-width="1.2" stroke-linejoin="round"/>
<path d="M309.8 392.1 L311.8 392.09 L313.8 392.08 L315.8 392.07 L317.8 392.06 L319.8 392.04 L321.8 392.03 L323.8 392.02 L325.8 392.01 L327.8 392 L328.63 389.99 L329.47 387.85 L330.3 386.21 L330.78 383.82 L331.26 382.31 L331.74 380.54 L332.22 378.94 L332.7 376.68 L333.12 374.6 L333.53 372.44 L333.95 370.6 L334.37 368.16 L334.78 366.24 L335.2 363.63 L335.7 361.76 L336.2 359.95 L336.7 357.01 L337.2 355.3 L337.7 352.99 L338.3 350.76 L338.9 348.78 L339.5 346.56 L340.1 344.12 L340.93 342.35 L341.77 339.88 L342.6 338.68 L344.1 336.15 L345.6 334.23 L348.1 331.14 L351.2 334.86 L354.9 334.17 L356.7 334.55 L358.5 335.39 L362.2 334.83 L364.05 334.85 L365.9 336.29 L367.85 337.18 L369.8 338.63 L371.65 340.81 L373.5 341.69 L374.73 342.57 L375.97 344.51 L377.2 345.37 L378.43 347.27 L379.67 348.39 L380.9 350.74 L382.13 352.84 L383.37 355.82 L384.6 357.76 L385.83 360.34 L387.07 363.02 L388.3 364.68 L389.2 365.81 L390.1 367.37 L391 369.34 L391.9 371.93 L393.13 372.71 L394.37 374.28 L395.6 377.43 L397.45 380.65 L399.3 382.94 L401.75 383.32 L404.2 382.1 L406.13 384.61 L408.07 386.38 L410 387.73 L412.3 389.72 L414.6 388.72 L416.88 390.27 L419.15 389.09 L421.43 390.68 L423.7 390.98 L425.71 390.62 L427.72 391.48 L429.73 389.88 L431.74 391.27 L433.75 391.7 L435.76 390.16 L437.77 390.81 L439.77 390.71 L441.78 390.96 L443.79 390.58 L445.8 391.24 L447.81 391.57 L449.82 391.12 L451.83 390.84 L453.84 390.61 L455.85 390.19 L457.86 390.02 L459.87 391.03 L461.88 390.84 L463.89 391 L465.9 390.65 L467.91 390.91 L469.92 390.99 L471.93 390.7 L473.93 391.55 L475.94 391.43 L477.95 391.24 L479.96 391.58 L481.97 391.06 L483.98 391.58 L485.99 391.52 L488 391.8" fill="none" stroke="#4b2275" stroke-width="1.2" stroke-linejoin="round"/>
<path d="M309.8 392.1 L311.82 392.09 L313.84 392.08 L315.87 392.07 L317.89 392.06 L319.91 392.04 L321.93 392.03 L323.96 392.02 L325.98 392.01 L328 392 L330 391.3 L332 390.37 L334 389.92 L335.43 388.22 L336.87 386.46 L338.3 384.94 L339.73 383.41 L341.17 381.39 L342.6 379.9 L343.82 378.17 L345.04 376.08 L346.26 374.28 L347.48 372.66 L348.7 369.94 L349.94 368.56 L351.18 366.68 L352.42 365.34 L353.66 363.44 L354.9 361.31 L356.12 360.21 L357.34 358.36 L358.56 356.68 L359.78 355.12 L361 353.55 L362.3 351.12 L363.6 349.02 L364.9 347.18 L366.12 344.54 L367.35 342.48 L368.57 340.61 L369.8 338.1 L371.02 336.41 L372.25 334.66 L373.48 332.56 L374.7 330.83 L376.37 329.08 L378.03 327.59 L379.7 326.06 L383.3 324.71 L385.15 326.12 L387 327.46 L388.63 329.38 L390.27 329.72 L391.9 332.18 L393.15 335.05 L394.4 335.63 L395.65 337.46 L396.9 339.5 L397.93 340.83 L398.97 343.55 L400 344.99 L400.93 346.96 L401.85 349.67 L402.77 352.06 L403.7 352.31 L404.6 354.78 L405.5 356.76 L406.4 357.79 L407.3 361.07 L408.68 363.9 L410.05 364.81 L411.43 366.96 L412.8 366.54 L414.63 369.43 L416.47 370.65 L418.3 373.94 L420.12 374.44 L421.95 375.53 L423.78 377.11 L425.6 378.43 L427.43 379.96 L429.25 380.7 L431.07 381.33 L432.9 380.46 L435.33 383.37 L437.77 383.46 L440.2 383.24 L442.48 384.89 L444.75 385.08 L447.02 385.66 L449.3 386.87 L451.6 385.71 L453.9 387.55 L456.2 388.38 L458.5 387.21 L460.93 389.27 L463.37 388.13 L465.8 388.38 L467 387.65 L467.33 384.75 L467.67 381.25 L468 379.85 L468.35 382.93 L468.7 384.22 L469.05 386.42 L469.4 388.91 L472.15 387.99 L474.9 386.62 L477.33 387.35 L479.77 389.21 L482.2 390.66 L484.63 388.33 L487.07 390.69 L489.5 390.7" fill="none" stroke="#64b23e" stroke-width="1.2" stroke-linejoin="round"/>
<path d="M309.8 392.1 L312.03 392.09 L314.26 392.07 L316.49 392.06 L318.71 392.04 L320.94 392.03 L323.17 392.01 L325.4 392 L326.2 390.32 L327 387.91 L327.8 386.57 L328.22 383.77 L328.63 382.34 L329.05 380.46 L329.47 378.39 L329.88 375.27 L330.3 373.92 L330.64 371.53 L330.99 369.77 L331.33 367.91 L331.67 365.55 L332.01 363.74 L332.36 360.79 L332.7 358.89 L333.06 356.87 L333.41 355.07 L333.77 353.11 L334.13 350.49 L334.49 348.36 L334.84 346.73 L335.2 344.06 L335.7 342.32 L336.2 339.75 L336.7 337.72 L337.2 336.05 L337.7 333.23 L338.5 330.88 L339.3 328.23 L340.1 326.14 L341.35 324.54 L342.6 322.46 L345 320.07 L346.25 318.69 L347.5 318.12 L351.2 317.19 L353.6 320.28 L356.1 320.91 L358.5 323.61 L361 326.36 L362.35 327.91 L363.7 331.31 L364.93 332.89 L366.17 333.12 L367.4 336.11 L368.63 338.45 L369.87 340.2 L371.1 343.33 L372 344.85 L372.9 347.16 L373.8 347.53 L374.7 349.87 L375.93 352.2 L377.17 354.31 L378.4 356.4 L379.63 358.09 L380.87 360.66 L382.1 364.2 L383.33 363.79 L384.57 364.66 L385.8 367.94 L386.73 368.77 L387.65 372.09 L388.57 374.14 L389.5 376.53 L391.13 376.86 L392.77 376.94 L394.4 381.36 L396.03 382.02 L397.67 383.56 L399.3 383.78 L401.37 384.24 L403.43 385.39 L405.5 384.63 L407.77 387.89 L410.05 387.38 L412.33 388.23 L414.6 389.91 L416.88 389.29 L419.15 391.14 L421.43 390.36 L423.7 389.29 L425.71 390.25 L427.72 390.75 L429.73 391.63 L431.74 391.42 L433.75 390.96 L435.76 389.78 L437.77 390.95 L439.77 390.76 L441.78 391.02 L443.79 391.54 L445.8 389.89 L447.81 390.44 L449.82 390.93 L451.83 391.14 L453.84 390.75 L455.85 389.28 L457.86 391.45 L459.87 391.02 L461.88 391.6 L463.89 391.38 L465.9 390.14 L467.91 391.49 L469.92 391.17 L471.93 391.73 L473.93 391.18 L475.94 390.78 L477.95 391.59 L479.96 390.47 L481.97 390.82 L483.98 391.37 L485.99 390.35 L488 391.8" fill="none" stroke="#b01238" stroke-width="1.2" stroke-linejoin="round"/>
<path d="M309.8 392.1 L312 392.08 L314.2 392.07 L316.4 392.05 L318.6 392.03 L320.8 392.02 L323 392 L324.8 390.95 L326.6 389.84 L327.83 387.87 L329.07 385.92 L330.3 383.75 L331.52 381.66 L332.74 379.75 L333.96 377.85 L335.18 375.8 L336.4 373.86 L337.64 371.96 L338.88 369.85 L340.12 368.2 L341.36 366 L342.6 364.1 L343.62 362.26 L344.63 360.55 L345.65 358.51 L346.67 356.92 L347.68 355.05 L348.7 353.08 L349.73 351.01 L350.77 349.16 L351.8 347.43 L352.83 345.63 L353.87 343.82 L354.9 342.03 L356.17 339.8 L357.45 337.61 L358.73 335.49 L360 333.09 L361.63 331.39 L363.27 329.08 L364.9 327 L367.35 325.88 L369.8 324.56 L372.25 324.78 L374.7 325.63 L376.37 327.07 L378.03 328.59 L379.7 329.84 L381.33 331.56 L382.97 333.81 L384.6 336.25 L385.83 337.87 L387.05 340.06 L388.27 341.51 L389.5 344.51 L390.73 347.27 L391.95 348.97 L393.17 350.78 L394.4 353.44 L395.62 355.6 L396.85 357.78 L398.07 359.05 L399.3 361.2 L400.52 363.83 L401.75 365.74 L402.98 367.69 L404.2 369 L405.56 371.46 L406.92 373.54 L408.28 374.97 L409.64 377.13 L411 378.07 L412.8 379.79 L414.6 382.21 L416.4 383.76 L418.22 383.76 L420.05 385.17 L421.88 386.95 L423.7 387.83 L426 389.31 L428.3 389.91 L430.6 390.48 L432.9 390.6 L435.08 390.81 L437.26 391.34 L439.44 391.13 L441.62 391.67 L443.8 391.71 L445.81 391.33 L447.82 391.68 L449.83 391.38 L451.84 390.64 L453.85 391.2 L455.85 391.18 L457.86 391.45 L459.87 391.21 L461.88 391.52 L463.89 391.56 L465.9 391.5 L467.91 391.4 L469.92 391.61 L471.93 391.24 L473.94 391.61 L475.95 391.4 L477.95 391.36 L479.96 391.7 L481.97 391.71 L483.98 391.65 L485.99 391.8 L488 391.9" fill="none" stroke="#ea961c" stroke-width="1.2" stroke-linejoin="round"/>
<path d="M458.9 274.6 H474.5" stroke="#b8722a" stroke-width="1.3"/>
<text x="478.5" y="278.2" font-size="10">P1</text>
<path d="M458.9 290.28 H474.5" stroke="#4b2275" stroke-width="1.3"/>
<text x="478.5" y="293.88" font-size="10">P2</text>
<path d="M458.9 305.96 H474.5" stroke="#64b23e" stroke-width="1.3"/>
<text x="478.5" y="309.56" font-size="10">P3</text>
<path d="M458.9 321.64 H474.5" stroke="#b01238" stroke-width="1.3"/>
<text x="478.5" y="325.24" font-size="10">P5</text>
<path d="M458.9 337.32 H474.5" stroke="#ea961c" stroke-width="1.3"/>
<text x="478.5" y="340.92" font-size="10" textLength="31.6">N (ave)</text>
<text x="11.6" y="467" font-size="16" font-weight="bold">E</text>
<text x="49.4" y="651.9" font-size="10.5" text-anchor="end" letter-spacing="1.3">0</text>
<text x="49.4" y="609.4" font-size="10.5" text-anchor="end" letter-spacing="1.3">40</text>
<text x="49.4" y="566.9" font-size="10.5" text-anchor="end" letter-spacing="1.3">80</text>
<text x="49.4" y="524.4" font-size="10.5" text-anchor="end" letter-spacing="1.3">120</text>
<text x="49.4" y="481.9" font-size="10.5" text-anchor="end" letter-spacing="1.3">160</text>
<path d="M56.8 473.8 V648 M52.8 648 H445 M52.8 648 H56.8 M52.8 605.5 H56.8 M52.8 563 H56.8 M52.8 520.5 H56.8 M52.8 478 H56.8 M95.4 648 V652 M173.1 648 V652 M250.7 648 V652 M328.1 648 V652 M405.5 648 V652" fill="none" stroke="#000" stroke-width="1.4"/>
<text transform="translate(21 561.6) rotate(-90)" font-size="12.5" text-anchor="middle" textLength="70" lengthAdjust="spacingAndGlyphs" class="h">Peak height (nM)</text>
<text x="95.65" y="666.1" font-size="10.4" text-anchor="middle" letter-spacing="0.5">F5F8D</text>
<text x="173.35" y="666.1" font-size="10.4" text-anchor="middle" letter-spacing="0.5">F5F8D</text>
<text x="173.35" y="679.8" font-size="10.4" text-anchor="middle" letter-spacing="0.5">+pd-FV</text>
<text x="250.95" y="666.1" font-size="10.4" text-anchor="middle" letter-spacing="0.5">F5F8D</text>
<text x="250.95" y="679.8" font-size="10.4" text-anchor="middle" letter-spacing="0.5">+rFVIII</text>
<text x="328.35" y="666.1" font-size="10.4" text-anchor="middle" letter-spacing="0.5">F5F8D</text>
<text x="328.35" y="679.8" font-size="10.4" text-anchor="middle" letter-spacing="0.5">DDAVP</text>
<text x="405.75" y="666.1" font-size="10.4" text-anchor="middle" letter-spacing="0.5">Normal</text>
<text x="250.3" y="478.3" font-size="9.5" text-anchor="middle" font-weight="bold">*</text>
<text x="211.65" y="492.5" font-size="9.5" text-anchor="middle" font-weight="bold">*</text>
<text x="172.85" y="506.6" font-size="9.5" text-anchor="middle" font-weight="bold">*</text>
<text x="211.75" y="601.4" font-size="9.5" text-anchor="middle" font-weight="bold">*</text>
<text x="250.55" y="615.5" font-size="9.5" text-anchor="middle" font-weight="bold">*</text>
<path d=" M95.2 478.8 H405.4 M95.2 475.5 V482.1 M405.4 475.5 V482.1 M95.2 493.0 H328.1 M95.2 489.7 V496.3 M328.1 489.7 V496.3 M95.2 507.1 H250.5 M95.2 503.8 V510.4 M250.5 503.8 V510.4 M173.0 601.9 H250.5 M173.0 598.6 V605.2 M250.5 598.6 V605.2 M173.0 616.0 H328.1 M173.0 612.7 V619.3 M328.1 612.7 V619.3" fill="none" stroke="#111" stroke-width="1.3"/>
<circle cx="95.4" cy="572.75" r="3.3" fill="#58aa36" stroke="#45a02a" stroke-width="0.4"/>
<circle cx="85" cy="578.1" r="3.3" fill="#58aa36" stroke="#45a02a" stroke-width="0.4"/>
<circle cx="105" cy="581.25" r="3.3" fill="#58aa36" stroke="#45a02a" stroke-width="0.4"/>
<circle cx="95.6" cy="586.25" r="3.3" fill="#58aa36" stroke="#45a02a" stroke-width="0.4"/>
<rect x="169.9" y="564.9" width="6.4" height="6.4" fill="#2b5192" stroke="#12306e" stroke-width="0.5"/>
<rect x="160.4" y="571.8" width="6.4" height="6.4" fill="#2b5192" stroke="#12306e" stroke-width="0.5"/>
<rect x="169.9" y="576.2" width="6.4" height="6.4" fill="#2b5192" stroke="#12306e" stroke-width="0.5"/>
<rect x="179.7" y="574.9" width="6.4" height="6.4" fill="#2b5192" stroke="#12306e" stroke-width="0.5"/>
<path d="M250.6 517.1 L254.2 523.5 L247 523.5Z" fill="#3d1b6b"/>
<path d="M250.7 542.2 L254.3 548.6 L247.1 548.6Z" fill="#3d1b6b"/>
<path d="M260.5 549.9 L264.1 556.3 L256.9 556.3Z" fill="#3d1b6b"/>
<path d="M250.7 558.4 L254.3 564.8 L247.1 564.8Z" fill="#3d1b6b"/>
<path d="M318.3 542.3 L322.4 546.4 L318.3 550.5 L314.2 546.4Z" fill="#e08c12"/>
<path d="M328.1 547.7 L332.2 551.8 L328.1 555.9 L324 551.8Z" fill="#e08c12"/>
<path d="M337.8 554 L341.9 558.1 L337.8 562.2 L333.7 558.1Z" fill="#e08c12"/>
<path d="M328.1 562.5 L332.2 566.6 L328.1 570.7 L324 566.6Z" fill="#e08c12"/>
<path d="M392.5 523 L399.1 523 L395.8 529.4Z" fill="#a3163a"/>
<path d="M402.2 527 L408.8 527 L405.5 533.4Z" fill="#a3163a"/>
<path d="M412.2 531.1 L418.8 531.1 L415.5 537.5Z" fill="#a3163a"/>
<path d="M402.2 537.3 L408.8 537.3 L405.5 543.7Z" fill="#a3163a"/>
<path d="M382.5 556.5 L389.1 556.5 L385.8 562.9Z" fill="#a3163a"/>
<path d="M392.5 562.4 L399.1 562.4 L395.8 568.8Z" fill="#a3163a"/>
<path d="M402.2 565 L408.8 565 L405.5 571.4Z" fill="#a3163a"/>
<path d="M412.2 561.4 L418.8 561.4 L415.5 567.8Z" fill="#a3163a"/>
<path d="M412.2 573.1 L418.8 573.1 L415.5 579.5Z" fill="#a3163a"/>
<path d="M402.2 577.3 L408.8 577.3 L405.5 583.7Z" fill="#a3163a"/>
<path d=" M82.25 577.25 H108.5 M82.25 582.5 H108.5 M95.4 577.25 V582.5 M160 571.6 H186 M160 577.9 H186 M173.1 571.6 V577.9 M237.2 535.5 H263.7 M237.2 553 H263.7 M250.7 535.5 V553 M314.9 551.6 H340.9 M314.9 559.9 H340.9 M328.1 551.6 V559.9 M392.7 548.4 H418.5 M392.7 561.2 H418.5 M405.5 548.4 V561.2" fill="none" stroke="#000" stroke-width="1.35"/>
<path d=" M69.4 579.75 H121.9 M146.9 574.75 H199 M224.2 544.6 H276.9 M302.1 555.9 H353.9 M379.6 555 H431.5" fill="none" stroke="#000" stroke-width="1.75"/>
<path d="M0.5 0.5 H519.5 V691.5 H0.5 Z" fill="none" stroke="#000" stroke-width="1"/>
<path d="M1.5 1.5 H518.5 V690.5 H1.5 Z" fill="none" stroke="#7a7a7a" stroke-width="1"/>
</svg></body></html>
